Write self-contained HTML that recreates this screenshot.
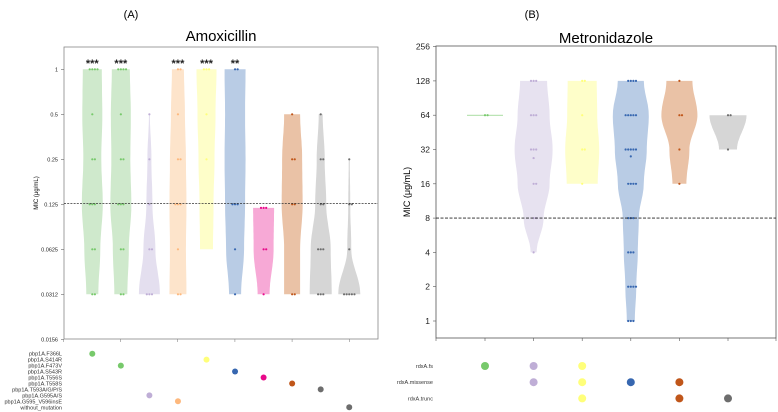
<!DOCTYPE html>
<html><head><meta charset="utf-8"><style>
body{margin:0;background:#fff;font-family:"Liberation Sans","DejaVu Sans",sans-serif}
svg{display:block}
</style></head><body>
<svg id="c" width="778" height="412" viewBox="0 0 778 412" xmlns="http://www.w3.org/2000/svg">
<text x="131" y="18" font-size="11" text-anchor="middle">(A)</text>
<text x="532" y="18" font-size="11" text-anchor="middle">(B)</text>
<text x="221" y="41" font-size="15" text-anchor="middle">Amoxicillin</text>
<text x="606" y="43" font-size="15" text-anchor="middle">Metronidazole</text>
<rect x="64" y="47" width="314" height="292" fill="none" stroke="#888" stroke-width="0.8"/>
<rect x="436" y="46" width="340" height="292" fill="none" stroke="#555" stroke-width="0.8"/>
<text transform="translate(38,193) rotate(-90)" font-size="6" text-anchor="middle">MIC (μg/mL)</text>
<text transform="translate(410,192) rotate(-90)" font-size="9" text-anchor="middle">MIC (μg/mL)</text>
<g id="g"></g>
</svg>
<script>
// ---------- Amoxicillin data ----------
const amoxTickLabels=["1","0.5","0.25","0.125","0.0625","0.0312","0.0156"];
const amoxTickLog=[0,-1,-2,-3,-4,-5,-6];
const amoxLevels=[0,-1,-2,-3,-4,-5];
const amoxTop=[0,0,-1,0,0,0,-3.08,-1,-1,-2];
const amoxBottom=[-5,-5,-5,-5,-4,-5,-5,-5,-5,-5];
const amoxHalfWidth=[
 [9.5,10,9,10.5,8,6],[9,10,9.5,10.5,8,6.5],[0,0.5,2,3,6,10.5],[6,7,8,8.5,8,8.5],
 [10,9,8,7,6.5,0],[10.5,10,10.5,10,9,6],[0,0,0,10.5,10,6],[0,8,10,10.5,8,8],
 [0,2,4,5.5,10,11],[0,0,0.5,1,2,11]];
const amoxPoints=[
 [0,0,0,0,-1,-2,-2,-3,-3,-3,-4,-4,-5,-5],[0,0,0,0,-1,-2,-2,-3,-3,-3,-4,-4,-5,-5],
 [-1,-2,-3,-4,-4,-5,-5,-5],[0,0,-1,-2,-2,-3,-3,-3,-4,-5,-5],[0,0,0,-1,-2],
 [0,0,-3,-3,-3,-4,-5],[-3.08,-3.08,-3.08,-4,-4,-5],[-1,-2,-2,-3,-3,-5,-5],
 [-1,-2,-2,-3,-3,-4,-4,-4,-5,-5,-5],[-2,-3,-3,-4,-5,-5,-5,-5,-5]];
const amoxStars=["***","***","","***","***","**","","","",""];
const amoxFill=["#cfe9cc","#cfe9cc","#e4dfef","#fde4cb","#fefec9","#b9cce5","#f7a9d6","#eac2a6","#d6d6d6","#d6d6d6"];
const amoxDot=["#77c96b","#77c96b","#bfaed6","#fdb87d","#ffff7a","#3767b0","#e8098a","#c0561a","#6d6d6d","#6d6d6d"];
const amoxRows=["pbp1A.F366L","pbp1A.S414R","pbp1A.F473V","pbp1A.S543R","pbp1A.T556S","pbp1A.T558S","pbp1A.T593A/G/P/S","pbp1A.G595A/S","pbp1A.G595_V596insE","without_mutation"];
const amoxRowCol=[0,4,1,5,6,7,8,2,3,9];
const amoxCutoff=-2.98;
// ---------- Metronidazole data ----------
const metTickLabels=["1","2","4","8","16","32","64","128","256"];
const metTickLog=[0,1,2,3,4,5,6,7,8];
const metLevels=[7,6,5,4,3,2,1,0];
const metTop=[6,7,7,7,7,6];
const metBottom=[6,2,4,0,4,5];
const metHalfWidth=[
 [0,18,0,0,0,0,0,0],[13.5,16,19,16,10,3,0,0],[14.5,15,17,15.5,0,0,0,0],
 [13,18,16,13,8,7,5.5,4],[13,18,10,7,0,0,0,0],[0,18.5,9,0,0,0,0,0]];
const metPoints=[[6,6],[7,7,7,6,6,6,5,5,5,4.75,4,4,3,3,2],[7,7,6,5,5,4],
 [7,7,7,7,6,6,6,6,6,5,5,5,5,5,4.8,4,4,4,4,3,3,3,2,2,2,1,1,1,1,0,0,0],[7,6,6,5,4],[6,6,5]];
const metFill=["#77c96b","#e7e2f0","#fefec9","#b9cce5","#eac2a6","#d6d6d6"];
const metDot=["#77c96b","#bfaed6","#ffff7a","#3767b0","#c0561a","#6d6d6d"];
const metRows=["rdxA.fs","rdxA.missense","rdxA.trunc"];
const metMatrix=[[1,1,1,0,0,0],[0,1,1,1,1,0],[0,0,1,0,1,1]];
const metCutoff=3;

const NS="http://www.w3.org/2000/svg",G=document.getElementById('g');
function mk(t,a,p){const e=document.createElementNS(NS,t);for(const k in a)e.setAttribute(k,a[k]);(p||G).appendChild(e);return e;}
const ayA=l=>69.3-45*l, axA=i=>92.3+28.55*i;
const ayM=l=>321-34.3*l, axM=i=>485+48.6*i;

function hwAt(levels,hws,l){
  for(let k=0;k<levels.length-1;k++){
    const a=levels[k],b=levels[k+1];
    if((l<=a&&l>=b)||(l>=a&&l<=b)){const t=(l-a)/(b-a);const s=(1-Math.cos(Math.PI*t))/2;return hws[k]+(hws[k+1]-hws[k])*s;}
  }
  return hws[hws.length-1];
}
function violin(cx,top,bot,levels,hws,ay,fill,name){
  const n=40,R=[],L=[];
  for(let j=0;j<=n;j++){const l=top+(bot-top)*j/n;let w=hwAt(levels,hws,l);
    if(j==0||j==n) w=Math.max(w,hwAt(levels,hws,l));
    R.push([cx+w,ay(l)]);L.push([cx-w,ay(l)]);}
  const pts=R.concat(L.reverse()).map(p=>p[0].toFixed(1)+','+p[1].toFixed(1)).join(' ');
  const e=mk('polygon',{points:pts,fill:fill,stroke:'none'});
  
  
}
function points(cx,arr,ay,col,name){
  const cnt={};
  arr.forEach((v,i)=>{cnt[v]=(cnt[v]||0)+1;const k=cnt[v]-1;const off=((k%2)?1:-1)*Math.ceil(k/2)*2.6+(k==0?0:0);
    const c=mk('circle',{cx:cx+off,cy:ay(v),r:1.1,fill:col});
    
    });
}
// Amox ticks
amoxTickLog.forEach((l,i)=>{
  const t=mk('text',{x:58,y:ayA(l)+2,'font-size':5.5,'text-anchor':'end',fill:'#222'});t.textContent=amoxTickLabels[i];
  
  
  mk('line',{x1:61,x2:64,y1:ayA(l),y2:ayA(l),stroke:'#666','stroke-width':0.6});
});
[0,1,2,3,4,5].forEach(k=>mk('line',{x1:63.3+57.2*k,x2:63.3+57.2*k,y1:339,y2:342,stroke:'#888','stroke-width':0.6}));
amoxFill.forEach((f,i)=>{
  violin(axA(i),amoxTop[i],amoxBottom[i],amoxLevels,amoxHalfWidth[i],ayA,f,'amox-violin');
  points(axA(i),amoxPoints[i],ayA,amoxDot[i],'amox-point');
  if(amoxStars[i]){const t=mk('text',{x:axA(i),y:67,'font-size':11,'font-weight':'bold','text-anchor':'middle',fill:'#222'});t.textContent=amoxStars[i];
    
    }
});
{const d=mk('line',{x1:64,x2:378,y1:ayA(amoxCutoff),y2:ayA(amoxCutoff),stroke:'#333','stroke-width':0.8,'stroke-dasharray':'2,1.2'});
 }
amoxRows.forEach((r,i)=>{const y=353.7+5.95*i;
  const t=mk('text',{x:62,y:y+2,'font-size':5.5,'text-anchor':'end',fill:'#333'});t.textContent=r;
  
  
  const c=mk('circle',{cx:axA(amoxRowCol[i]),cy:y,r:3,fill:amoxDot[amoxRowCol[i]]});
  
  });
// Metro ticks
metTickLog.forEach((l,i)=>{
  const t=mk('text',{x:430,y:ayM(l)+3,'font-size':8.5,'text-anchor':'end',fill:'#222'});t.textContent=metTickLabels[i];
  
  
  mk('line',{x1:433,x2:436,y1:ayM(l),y2:ayM(l),stroke:'#555','stroke-width':0.6});
});
[436].concat(metFill.map((f,i)=>axM(i))).concat([776]).forEach(x=>mk('line',{x1:x,x2:x,y1:338,y2:341,stroke:'#555','stroke-width':0.6}));
metFill.forEach((f,i)=>{
  if(metTop[i]==metBottom[i]){const h=metHalfWidth[i][metLevels.indexOf(metTop[i])];
    const e=mk('line',{x1:axM(i)-h,x2:axM(i)+h,y1:ayM(metTop[i]),y2:ayM(metTop[i]),stroke:f,'stroke-width':0.7});
    }
  else violin(axM(i),metTop[i],metBottom[i],metLevels,metHalfWidth[i],ayM,f,'metro-violin');
  points(axM(i),metPoints[i],ayM,metDot[i],'metro-point');
});
{const d=mk('line',{x1:436,x2:776,y1:ayM(metCutoff),y2:ayM(metCutoff),stroke:'#222','stroke-width':0.9,'stroke-dasharray':'3,1.5'});
 }
metRows.forEach((r,i)=>{const y=366+16.2*i;
  const t=mk('text',{x:433,y:y+2,'font-size':5.5,'text-anchor':'end',fill:'#333'});t.textContent=r;
  
  
  metMatrix[i].forEach((v,j)=>{if(!v)return;
    const c=mk('circle',{cx:axM(j),cy:y,r:4,fill:metDot[j]});
    
    });});
</script>
</body></html>
